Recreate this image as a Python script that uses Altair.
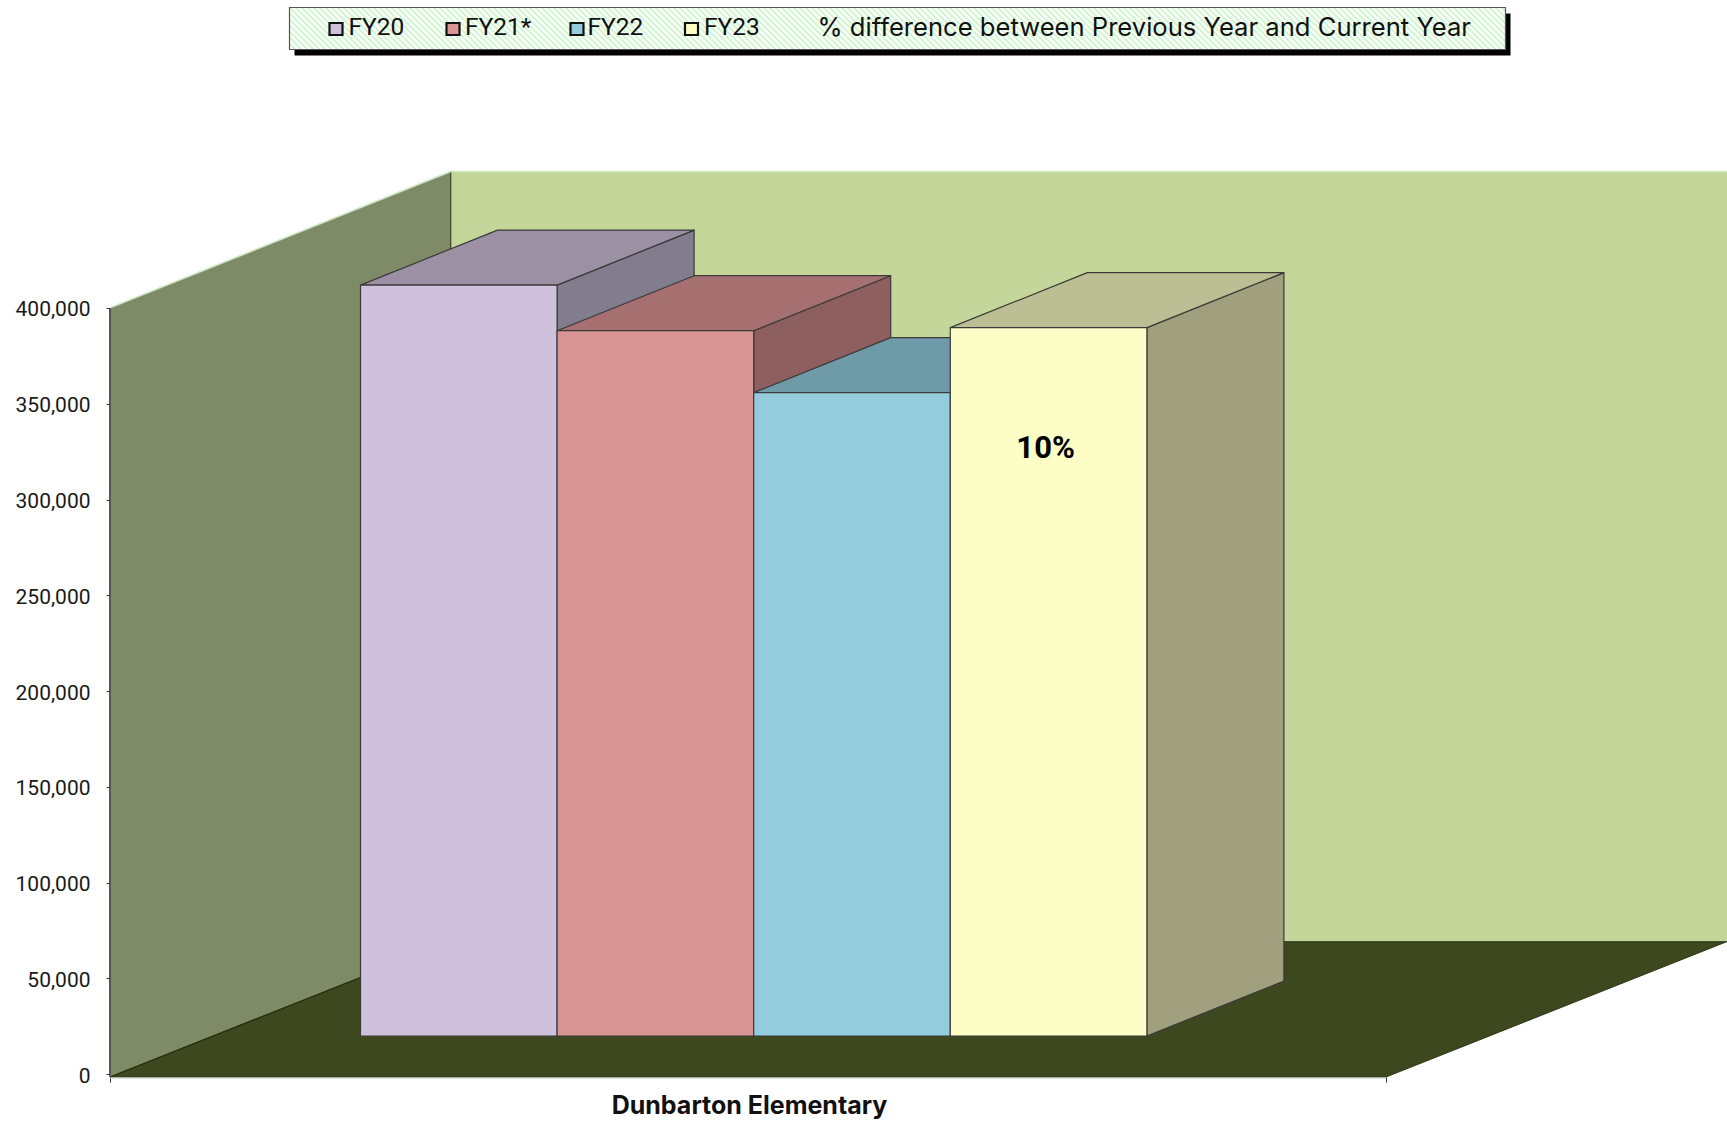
import altair as alt
import pandas as pd

# Chart values
SCHOOL = "Dunbarton Elementary"
YEARS = ["FY20", "FY21*", "FY22", "FY23"]
ENROLLMENT_COST = [391900, 368100, 335800, 369700]
Y_TICKS = [0, 50000, 100000, 150000, 200000, 250000, 300000, 350000, 400000]
LEGEND_NOTE = "% difference between Previous Year and Current Year"

# Face colours per series: front, top, side
FRONT = ["#CFC1DB", "#D99594", "#94CCDD", "#FCFEC6"]
TOP = ["#9C90A4", "#A5706F", "#6F9AA7", "#BCBF94"]
SIDE = ["#817C8E", "#8D5F5E", "#5F8390", "#A0A07E"]
OUTLINE = "#3A3A3A"

# Canvas and oblique projection
W, H = 1727, 1121
UNITS_PER_PX = 1 / 0.001916
ZERO_PX = 1074.3
AXIS_X = 110
FLOOR_END_X = 1386
WALL_DX = 340.7
FLOOR_BACK_PX, WALL_TOP_BACK_PX = 941.7, 171.5
BAR_LEFT, BAR_W = 360.5, 196.6
BAR_DX, BAR_DV = 137.0, 55 * UNITS_PER_PX
BAR_BASE = 38.3 * UNITS_PER_PX
AXIS_TOP = 400000


def v(px):
    """Value on the y scale for a canvas row."""
    return (ZERO_PX - px) * UNITS_PER_PX


xs = alt.Scale(domain=[0, W], range=[0, W], nice=False, zero=False)
ys = alt.Scale(domain=[v(H), v(0)], range=[H, 0], nice=False, zero=False)
X = alt.X("x:Q", scale=xs, axis=None)
Y = alt.Y("y:Q", scale=ys, axis=None)


def side_face(x0, dx, low, high, low_back, high_back, fill, stroke=OUTLINE, sw=1.2):
    """Parallelogram with vertical left and right edges."""
    df = pd.DataFrame({"x": [x0, x0 + dx], "y": [high, high_back], "y2": [low, low_back]})
    return alt.Chart(df).mark_area(orient="vertical", fill=fill, stroke=stroke, strokeWidth=sw).encode(
        x=X, y=Y, y2="y2:Q"
    )


def flat_face(x0, x1, dx, val, val_back, fill, stroke=OUTLINE, sw=1.2):
    """Parallelogram with horizontal front and back edges."""
    df = pd.DataFrame({"x": [x0, x0 + dx], "x2": [x1, x1 + dx], "y": [val, val_back]})
    return alt.Chart(df).mark_area(orient="horizontal", fill=fill, stroke=stroke, strokeWidth=sw).encode(
        x=X, x2="x2:Q", y=Y
    )


def box(x0, x1, low, high, fill, stroke=None, sw=1.2):
    df = pd.DataFrame({"x": [x0], "x2": [x1], "y": [high], "y2": [low]})
    kw = {"stroke": stroke, "strokeWidth": sw} if stroke else {}
    return alt.Chart(df).mark_rect(fill=fill, **kw).encode(x=X, x2="x2:Q", y=Y, y2="y2:Q")


def segment(x0, y0, x1, y1, color, sw=1.0):
    df = pd.DataFrame({"x": [x0], "x2": [x1], "y": [y0], "y2": [y1]})
    return alt.Chart(df).mark_rule(color=color, strokeWidth=sw).encode(x=X, x2="x2:Q", y=Y, y2="y2:Q")


def label(x, y, text, size, weight="normal", align="left", color="#111111", font="Roboto"):
    df = pd.DataFrame({"x": [x], "y": [y], "t": [text]})
    return alt.Chart(df).mark_text(
        font=font, fontSize=size, fontWeight=weight, align=align, baseline="middle", color=color
    ).encode(x=X, y=Y, text="t:N")


layers = []

# Value axis and category axis
axis_df = pd.DataFrame({"x": [AXIS_X], "y": [0], "y2": [AXIS_TOP]})
layers.append(
    alt.Chart(axis_df).mark_rule(color="#444444", strokeWidth=1.4).encode(
        x=alt.X(
            "x:Q",
            scale=xs,
            axis=alt.Axis(
                values=[AXIS_X, FLOOR_END_X], labels=False, domain=False, grid=False, ticks=True,
                tickSize=5, tickColor="#333333", offset=-(H - 1077),
                title=SCHOOL, titleFont="Inter", titleFontSize=25, titleFontWeight="bold",
                titleColor="#111111", titleX=749, titleY=16, titleBaseline="top", titleAlign="center",
            ),
        ),
        y=alt.Y(
            "y:Q",
            scale=ys,
            axis=alt.Axis(
                values=Y_TICKS, format=",d", domain=False, grid=False, title=None, offset=-AXIS_X,
                tickSize=4, tickColor="#333333", labelPadding=16, labelFont="Roboto", labelFontSize=21,
                labelColor="#1A1A1A", labelOffset=2,
            ),
        ),
        y2="y2:Q",
    )
)

# Back wall, side wall and floor
wall_top = AXIS_TOP
back_low, back_high = v(FLOOR_BACK_PX), v(WALL_TOP_BACK_PX)
layers.append(box(AXIS_X + WALL_DX, W, back_low, back_high, "#C4D69A"))
layers.append(side_face(AXIS_X, WALL_DX, v(1077), wall_top, back_low, back_high, "#7F8A66", stroke="#7F8A66", sw=0.5))
layers.append(flat_face(AXIS_X, FLOOR_END_X, WALL_DX, v(1077), back_low, "#3E481E", stroke="#2E3616", sw=1))
layers.append(segment(AXIS_X + WALL_DX, back_low, AXIS_X + WALL_DX, back_high, "#3F4A2E", 1.2))
layers.append(segment(AXIS_X, wall_top, AXIS_X + WALL_DX, back_high, "#CDE9C6", 1.5))
layers.append(segment(AXIS_X + WALL_DX, back_high, W, back_high, "#CDE9C6", 1.5))
layers.append(segment(AXIS_X, v(1077), AXIS_X + WALL_DX, back_low, "#26300F", 1.2))
layers.append(segment(AXIS_X, v(1077), AXIS_X, AXIS_TOP, "#444444", 1.4))

# Columns, back to front and left to right
for i, value in enumerate(ENROLLMENT_COST):
    x0 = BAR_LEFT + i * BAR_W
    x1 = x0 + BAR_W
    top = BAR_BASE + value
    layers.append(side_face(x1, BAR_DX, BAR_BASE, top, BAR_BASE + BAR_DV, top + BAR_DV, SIDE[i]))
    layers.append(flat_face(x0, x1, BAR_DX, top, top + BAR_DV, TOP[i]))
    layers.append(box(x0, x1, BAR_BASE, top, FRONT[i], stroke=OUTLINE))

# Percent change printed on the last column
change = (ENROLLMENT_COST[3] - ENROLLMENT_COST[2]) / ENROLLMENT_COST[2]
layers.append(label(BAR_LEFT + 3.5 * BAR_W - 3, BAR_BASE + 0.829 * ENROLLMENT_COST[3],
                    f"{change:.0%}", 31, "bold", "center", "#000000"))

layers.append(segment(AXIS_X, v(1078), FLOOR_END_X, v(1078), "#C8C8C8", 1))

# Legend panel
BOX_L, BOX_R, BOX_T, BOX_B = 289.5, 1505.5, 7.5, 49.5
layers.append(box(BOX_L + 5, BOX_R + 5, v(BOX_B + 6), v(BOX_T + 6), "#000000"))
layers.append(box(BOX_L, BOX_R, v(BOX_B), v(BOX_T), "#FFFFFF"))

# Diagonal hatching, trimmed to the panel
hatch = []
span = BOX_B - BOX_T
start = BOX_L - span
while start < BOX_R:
    a = max(start, BOX_L)
    b = min(start + span, BOX_R)
    hatch.append({"x": a, "y": v(BOX_T + (a - start)), "x2": b, "y2": v(BOX_T + (b - start))})
    start += 6.0
layers.append(
    alt.Chart(pd.DataFrame(hatch)).mark_rule(color="#D2F6D2", strokeWidth=2.2).encode(
        x=X, x2="x2:Q", y=Y, y2="y2:Q"
    )
)
layers.append(
    alt.Chart(pd.DataFrame({"x": [BOX_L], "x2": [BOX_R], "y": [v(BOX_T)], "y2": [v(BOX_B)]}))
    .mark_rect(fillOpacity=0, stroke="#555555", strokeWidth=1.2)
    .encode(x=X, x2="x2:Q", y=Y, y2="y2:Q")
)

SWATCH_X = [329.5, 446.5, 570.5, 685.0]
LABEL_X = [348.5, 465.0, 587.5, 704.0]
for name, color, sx, tx in zip(YEARS, FRONT, SWATCH_X, LABEL_X):
    layers.append(box(sx, sx + 13, v(35), v(23), color, stroke="#111111", sw=2.2))
    layers.append(label(tx, v(28), name, 24.5))
layers.append(label(817.5, v(28), LEGEND_NOTE, 25.6, font="Inter"))

chart = (
    alt.layer(*layers)
    .properties(width=W, height=H, padding=0, autosize=alt.AutoSizeParams(type="none"), background="white")
    .resolve_axis(x="independent", y="independent")
    .configure_view(stroke=None)
)

chart.save("out.html", embed_options={"renderer": "svg", "actions": False})
